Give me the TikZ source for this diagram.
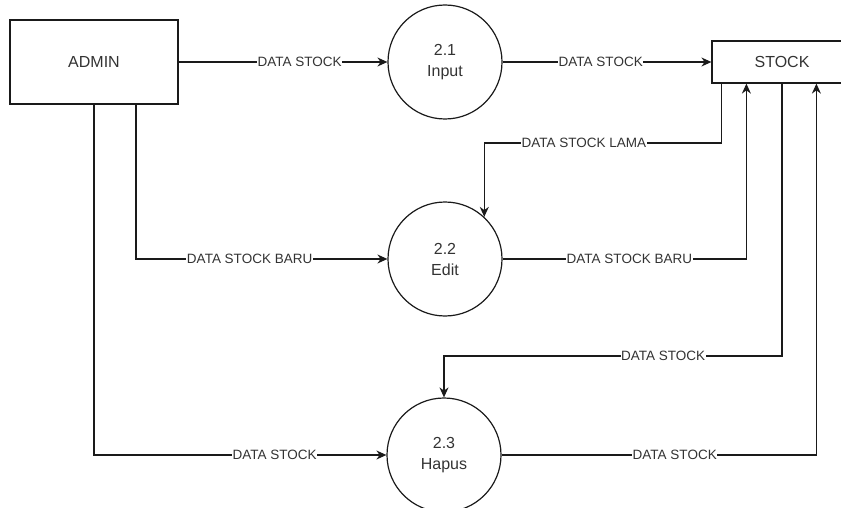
\documentclass[tikz,border=0pt]{standalone}
\usepackage{fontspec}
\setmainfont{Liberation Sans}
\usetikzlibrary{arrows.meta}
\definecolor{txt}{HTML}{333333}
\definecolor{ln}{HTML}{1a1a1a}
\begin{document}
\begin{tikzpicture}[x=1pt,y=-1pt,
  ent/.style={draw=ln,line width=1.2pt,fill=white,text=txt,font=\fontsize{16}{19}\selectfont,inner sep=0pt},
  proc/.style={draw=ln,line width=1.2pt,circle,minimum size=114pt,inner sep=0pt,text=txt,align=center,font=\fontsize{16}{21}\selectfont},
  flow/.style={draw=ln,line width=1.2pt,-{Stealth[length=10pt,width=9pt]}},
  lbl/.style={fill=white,text=txt,inner sep=0.5pt,font=\fontsize{13.5}{15}\selectfont}]
\useasboundingbox (0,0) rectangle (841,508);
\node[ent,minimum width=168pt,minimum height=84pt] (admin) at (94,62) {ADMIN};
\node[ent,minimum width=140pt,minimum height=42pt] (stock) at (782,62) {STOCK};
\node[proc] (p1) at (445,62) {2.1\\Input};
\node[proc] (p2) at (445,259) {2.2\\Edit};
\node[proc] (p3) at (444,455) {2.3\\Hapus};
\coordinate (y1) at (0,143);
\coordinate (y2) at (0,356);
% ADMIN -> 2.1
\draw[flow] (admin.east) -- node[lbl,pos=0.58]{DATA STOCK} (p1.west);
% 2.1 -> STOCK
\draw[flow] (p1.east) -- node[lbl,pos=0.47]{DATA STOCK} (stock.west);
% STOCK -> 2.2 (lama)
\draw[flow] ([xshift=10pt]stock.south west) |- node[lbl,pos=0.79]{DATA STOCK LAMA} (y1 -| p2.47) -- (p2.47);
% 2.2 -> STOCK (baru)
\draw[flow] (p2.east) -| node[lbl,pos=0.26]{DATA STOCK BARU} ([xshift=35pt]stock.south west);
% ADMIN -> 2.2
\draw[flow] ([xshift=42pt]admin.south) |- node[lbl,pos=0.726]{DATA STOCK BARU} (p2.west);
% STOCK -> 2.3
\draw[flow] (stock.south) |- node[lbl,pos=0.676]{DATA STOCK} (y2 -| p3.north) -- (p3.north);
% ADMIN -> 2.3
\draw[flow] (admin.south) |- node[lbl,pos=0.809]{DATA STOCK} (p3.west);
% 2.3 -> STOCK
\draw[flow] (p3.east) -| node[lbl,pos=0.275]{DATA STOCK} ([xshift=105pt]stock.south west);
\end{tikzpicture}
\end{document}
